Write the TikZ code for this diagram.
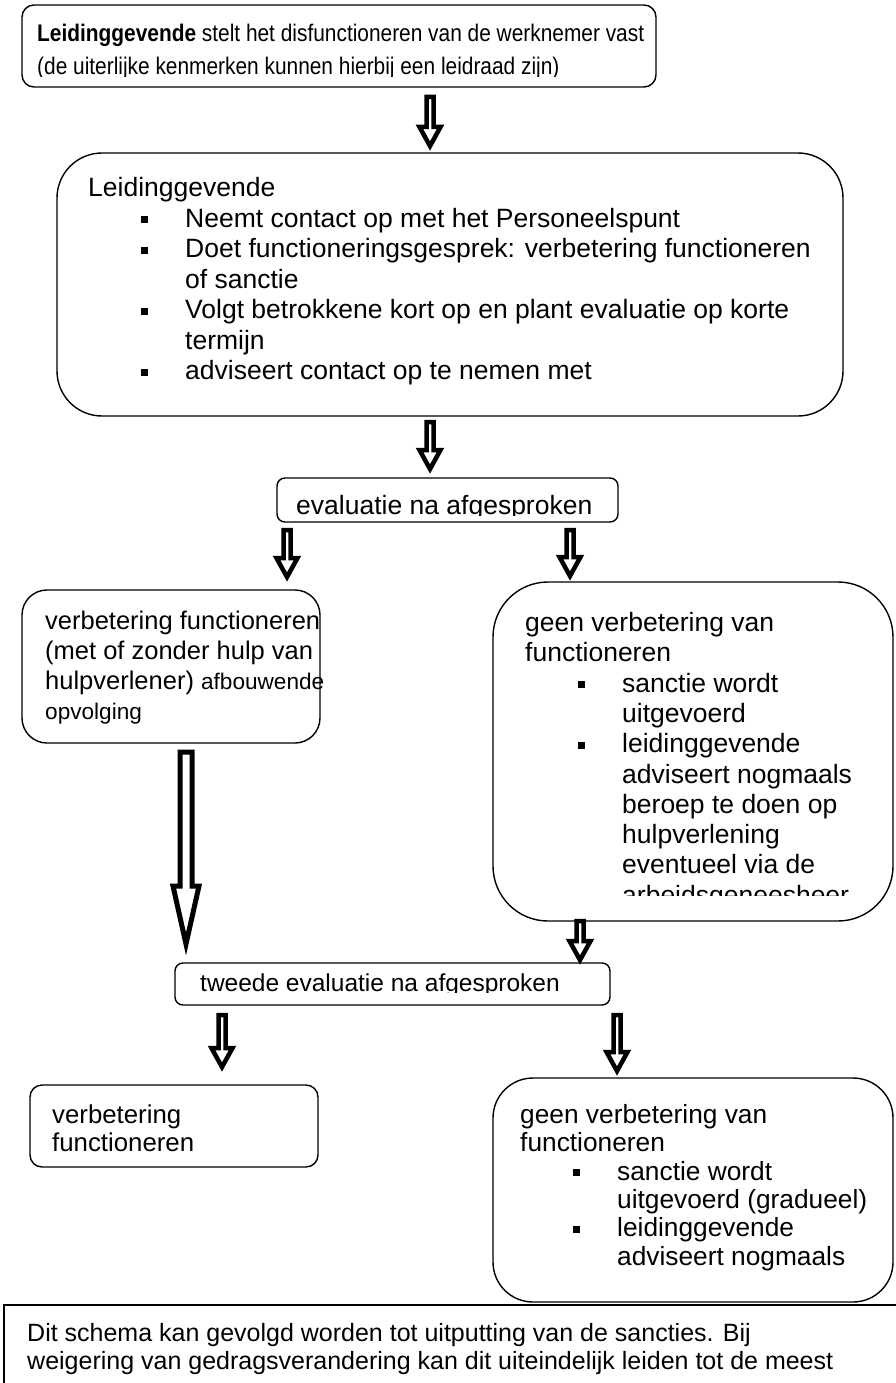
\documentclass[tikz,border=0pt]{standalone}
\usepackage{fontspec}
\setmainfont{Liberation Sans}
\newfontfamily\leadfont[FakeStretch=0.87]{Liberation Sans}
\usetikzlibrary{calc}

\newcommand{\fs}[2]{\fontsize{#1}{#2}\selectfont}
\newcommand{\itm}{\hspace*{53pt}\makebox[44pt][l]{\rule[4pt]{7pt}{7pt}}}
\newcommand{\cnt}{\hspace*{97pt}}
\newcommand{\arrShaft}{3.5}
\newcommand{\arrHead}{10.5}
\newcommand{\arrLen}{19}
% block arrow: [style] column, from node, to node, gap below from, gap above to
\newcommand{\fatarrow}[6][]{%
  \coordinate (fa-top) at ($(#2 |- #3.south)+(0,-#5)$);
  \coordinate (fa-tip) at ($(#2 |- #4.north)+(0,#6)$);
  \draw[fat,#1] ($(fa-top)+(-\arrShaft,0)$) -- ($(fa-tip)+(-\arrShaft,\arrLen)$)
    -- ($(fa-tip)+(-\arrHead,\arrLen)$) -- (fa-tip) -- ($(fa-tip)+(\arrHead,\arrLen)$)
    -- ($(fa-tip)+(\arrShaft,\arrLen)$) -- ($(fa-top)+(\arrShaft,0)$) -- cycle;}

\tikzset{
  frame/.style={draw, line width=1.4pt, fill=white, inner sep=0pt, outer sep=0pt},
  txt/.style={anchor=north west, align=left, inner sep=0pt,
    execute at begin node=\rule{0pt}{.75em}},
  fat/.style={draw, fill=white, line width=4.5pt, line join=miter}
}

\begin{document}
\begin{tikzpicture}[x=1pt, y=1pt]
\useasboundingbox (0,0) rectangle (896,-1383);
\clip (0,0) rectangle (896,-1383);

% boxes
\node[frame, rounded corners=12pt, minimum width=634pt, minimum height=82pt] (lead) at (339,-46) {};
\node[frame, rounded corners=45pt, minimum width=786pt, minimum height=263pt] (plan) at (450,-284.5) {};
\node[frame, rounded corners=8pt, minimum width=341pt, minimum height=44pt] (eval1) at (447.5,-500) {};
\node[frame, rounded corners=25pt, minimum width=298pt, minimum height=153pt] (beter1) at (171,-666.5) {};
\node[frame, rounded corners=55pt, minimum width=400pt, minimum height=339pt] (geen1) at (693,-751.5) {};
\node[frame, rounded corners=8pt, minimum width=435pt, minimum height=42pt] (eval2) at (392.5,-984) {};
\node[frame, rounded corners=12pt, minimum width=288pt, minimum height=82pt] (beter2) at (174,-1126) {};
\node[frame, rounded corners=40pt, minimum width=400pt, minimum height=224pt] (geen2) at (693,-1190) {};
\node[frame, minimum width=906pt, minimum height=95pt] (note) at (457,-1352.5) {};

% texts
\begin{scope}
\clip (lead.north west) rectangle ($(lead.south east)+(0,10)$);
\node[txt, font=\leadfont\fs{24}{33}] (lead-t) at (37,-24)
  {\textbf{Leidinggevende} stelt het disfunctioneren van de werknemer vast\\
   (de uiterlijke kenmerken kunnen hierbij een leidraad zijn)};
\end{scope}

\node[txt, font=\fs{26.5}{30.5}] (plan-t) at (88,-177.1)
  {Leidinggevende\\
   \itm Neemt contact op met het Personeelspunt\\
   \itm Doet functioneringsgesprek: verbetering functioneren\\
   \cnt of sanctie\\
   \itm Volgt betrokkene kort op en plant evaluatie op korte\\
   \cnt termijn\\
   \itm adviseert contact op te nemen met};

\begin{scope}
\clip (eval1.north west) rectangle ($(eval1.south east)+(0,7)$);
\node[txt, font=\fs{26.5}{30}] (eval1-t) at (296,-494.1) {evaluatie na afgesproken};
\end{scope}

\node[txt, font=\fs{25.5}{30}] (beter1-t) at (45,-610.9)
  {verbetering functioneren\\
   (met of zonder hulp van\\
   hulpverlener) {\fs{22.6}{28}afbouwende}\\
   {\fs{22.6}{28}opvolging}};

\begin{scope}
\clip (geen1.north west) rectangle ($(geen1.south east)+(0,26)$);
\node[txt, font=\fs{26.5}{30.3}] (geen1-t) at (525,-612.1)
  {geen verbetering van\\
   functioneren\\
   \itm sanctie wordt\\
   \cnt uitgevoerd\\
   \itm leidinggevende\\
   \cnt adviseert nogmaals\\
   \cnt beroep te doen op\\
   \cnt hulpverlening\\
   \cnt eventueel via de\\
   \cnt arbeidsgeneesheer};
\end{scope}

\begin{scope}
\clip (eval2.north west) rectangle ($(eval2.south east)+(0,13)$);
\node[txt, font=\fs{24.5}{30}] (eval2-t) at (200,-972.6) {tweede evaluatie na afgesproken};
\end{scope}

\node[txt, font=\fs{25.8}{28}] (beter2-t) at (52,-1104.65)
  {verbetering\\
   functioneren};

\node[txt, font=\fs{26.3}{28.3}] (geen2-t) at (520,-1104.3)
  {geen verbetering van\\
   functioneren\\
   \itm sanctie wordt\\
   \cnt uitgevoerd (gradueel)\\
   \itm leidinggevende\\
   \cnt adviseert nogmaals};

\node[txt, font=\fs{25}{28}] (note-t) at (27,-1323.2)
  {Dit schema kan gevolgd worden tot uitputting van de sancties. Bij\\
   weigering van gedragsverandering kan dit uiteindelijk leiden tot de meest};

% arrow columns
\coordinate (colA) at (430,0);
\coordinate (colL) at (287,0);
\coordinate (colR) at (570,0);
\coordinate (colBig) at (186,0);
\coordinate (colR2) at (580,0);
\coordinate (colL3) at (222,0);
\coordinate (colR3) at (617,0);

% arrows
\fatarrow{colA}{lead}{plan}{10}{7}
\fatarrow{colA}{plan}{eval1}{6}{9}
\fatarrow{colL}{eval1}{beter1}{8}{13}
\fatarrow{colR}{eval1}{geen1}{8}{6}
{\renewcommand{\arrShaft}{6}\renewcommand{\arrHead}{13}\renewcommand{\arrLen}{58}%
 \fatarrow[line width=5pt]{colBig}{beter1}{eval2}{9}{19}}
\fatarrow{colR2}{geen1}{eval2}{0}{3}
\fatarrow{colL3}{eval2}{beter2}{10}{18}
\fatarrow{colR3}{eval2}{geen2}{10}{7}
\end{tikzpicture}
\end{document}
